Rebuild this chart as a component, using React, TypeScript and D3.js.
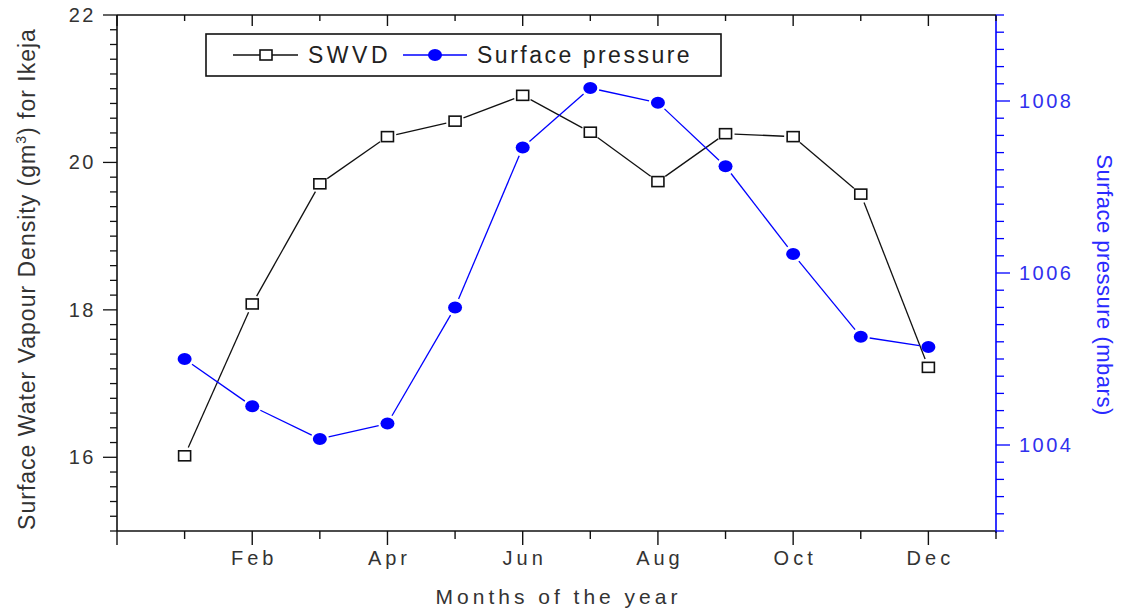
import React from "react";
import * as d3 from "d3";

const months = ["Jan", "Feb", "Mar", "Apr", "May", "Jun", "Jul", "Aug", "Sep", "Oct", "Nov", "Dec"];
const swvd = [16.02, 18.08, 19.71, 20.35, 20.56, 20.91, 20.41, 19.74, 20.39, 20.35, 19.57, 17.22];
const pressure = [1005.0, 1004.45, 1004.07, 1004.25, 1005.6, 1007.46, 1008.15, 1007.98, 1007.24, 1006.22, 1005.26, 1005.14];
const leftTicks = [16, 18, 20, 22];
const rightTicks = [1004, 1006, 1008];
const xLabelMonths = [2, 4, 6, 8, 10, 12];

const W = 1122, H = 609;
const L = 117, R = 996, T = 15, B = 531;
const BLUE = "#0000ff";
const FONT = "Arial, 'Liberation Sans', sans-serif";

function gapSegments(pts: [number, number][], gap: number) {
  const segs: [number, number][][] = [];
  for (let i = 0; i < pts.length - 1; i++) {
    const [x1, y1] = pts[i];
    const [x2, y2] = pts[i + 1];
    const dx = x2 - x1, dy = y2 - y1;
    const len = Math.hypot(dx, dy);
    if (len <= 2 * gap) continue;
    const ux = dx / len, uy = dy / len;
    segs.push([[x1 + ux * gap, y1 + uy * gap], [x2 - ux * gap, y2 - uy * gap]]);
  }
  return segs;
}

export default function App() {
  const x = d3.scaleLinear().domain([0, 13]).range([L, R]);
  const yL = d3.scaleLinear().domain([15, 22]).range([B, T]);
  const yR = d3.scaleLinear().domain([1003, 1009]).range([B, T]);
  const line = d3.line<[number, number]>();

  const swvdPts: [number, number][] = swvd.map((v, i) => [x(i + 1), yL(v)]);
  const presPts: [number, number][] = pressure.map((v, i) => [x(i + 1), yR(v)]);

  const xTicks = d3.range(0, 14);
  const lMinor = d3.range(0, 36).map((i) => 15 + i * 0.2);
  const rMinor = d3.range(0, 31).map((i) => 1003 + i * 0.2);
  const isMajor = (v: number, list: number[]) => list.some((m) => Math.abs(m - v) < 1e-6);

  return (
    <svg width={W} height={H} style={{ position: "absolute", left: 0, top: 0, background: "#fff" }} fontFamily={FONT}>
      <rect x={0} y={0} width={W} height={H} fill="#fff" />

      {/* lines */}
      {gapSegments(swvdPts, 9).map((s, i) => (
        <path key={"sl" + i} d={line(s) || ""} stroke="#111" strokeWidth={1.3} fill="none" />
      ))}
      {gapSegments(presPts, 9).map((s, i) => (
        <path key={"pl" + i} d={line(s) || ""} stroke={BLUE} strokeWidth={1.3} fill="none" />
      ))}
      {/* markers */}
      {swvdPts.map(([px, py], i) => (
        <rect key={"sm" + i} x={px - 6} y={py - 5} width={12} height={10} fill="#fff" stroke="#111" strokeWidth={1.6} />
      ))}
      {presPts.map(([px, py], i) => (
        <ellipse key={"pm" + i} cx={px} cy={py} rx={7} ry={6} fill={BLUE} />
      ))}

      {/* frame / axes */}
      <line x1={L} x2={R} y1={T} y2={T} stroke="#111" strokeWidth={1.6} />
      <line x1={L} x2={R} y1={B} y2={B} stroke="#111" strokeWidth={1.6} />
      <line x1={L} x2={L} y1={T} y2={B} stroke="#111" strokeWidth={1.6} />
      <line x1={R} x2={R} y1={T} y2={B + 2} stroke={BLUE} strokeWidth={1.6} />

      {/* x ticks bottom (outward) and top (inward) */}
      {xTicks.map((t) => {
        const major = t % 2 === 0;
        return (
          <g key={"xt" + t}>
            <line x1={x(t)} x2={x(t)} y1={B} y2={B + (major ? 14 : 8)} stroke="#111" strokeWidth={1.4} />
            <line x1={x(t)} x2={x(t)} y1={T} y2={T + (major ? 11 : 6)} stroke="#111" strokeWidth={1.4} />
          </g>
        );
      })}
      {xLabelMonths.map((m) => (
        <text key={"xl" + m} x={x(m) + 2} y={565} textAnchor="middle" fontSize={20} letterSpacing={4} fill="#333">
          {months[m - 1]}
        </text>
      ))}
      <text x={(L + R) / 2 + 2} y={604} textAnchor="middle" fontSize={21} letterSpacing={4} fill="#333">
        Months of the year
      </text>

      {/* left axis ticks */}
      {lMinor.map((v, i) => {
        const major = isMajor(v, leftTicks);
        return <line key={"lt" + i} x1={L} x2={L - (major ? 14 : 7)} y1={yL(v)} y2={yL(v)} stroke="#111" strokeWidth={1.3} />;
      })}
      {leftTicks.map((v) => (
        <text key={"ll" + v} x={96} y={yL(v) + 7} textAnchor="end" fontSize={20} letterSpacing={2.5} fill="#333">
          {v}
        </text>
      ))}
      <text transform={`translate(35,${(T + B) / 2 + 6}) rotate(-90)`} textAnchor="middle" fontSize={23} letterSpacing={1} fill="#333">
        Surface Water Vapour Density (gm
        <tspan fontSize={14} dy={-9}>3</tspan>
        <tspan dy={9}>) for Ikeja</tspan>
      </text>

      {/* right axis ticks */}
      {rMinor.map((v, i) => {
        const major = isMajor(v, rightTicks);
        return <line key={"rt" + i} x1={R} x2={R + (major ? 14 : 8)} y1={yR(v)} y2={yR(v)} stroke={BLUE} strokeWidth={1.3} />;
      })}
      {rightTicks.map((v) => (
        <text key={"rl" + v} x={1019} y={yR(v) + 7} textAnchor="start" fontSize={20} letterSpacing={2.5} fill="#3030ee">
          {v}
        </text>
      ))}
      <text transform={`translate(1097,285) rotate(90)`} textAnchor="middle" fontSize={22} letterSpacing={0.5} fill="#2a2aff">
        Surface pressure (mbars)
      </text>

      {/* legend */}
      <rect x={206} y={34} width={515} height={42} fill="#fff" stroke="#111" strokeWidth={1.6} />
      <line x1={233} x2={298} y1={55} y2={55} stroke="#111" strokeWidth={1.3} />
      <rect x={260} y={50} width={12} height={10} fill="#fff" stroke="#111" strokeWidth={1.6} />
      <text x={308} y={63} fontSize={23} letterSpacing={3.5} fill="#222">SWVD</text>
      <line x1={403} x2={467} y1={55} y2={55} stroke={BLUE} strokeWidth={1.3} />
      <ellipse cx={435} cy={55} rx={7} ry={6} fill={BLUE} />
      <text x={477} y={63} fontSize={23} letterSpacing={2.5} fill="#222">Surface pressure</text>
    </svg>
  );
}
